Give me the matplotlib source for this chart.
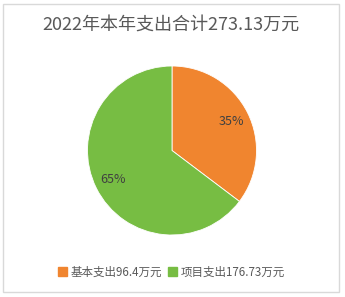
import matplotlib
matplotlib.use("Agg")
import matplotlib.pyplot as plt
from matplotlib.patches import Rectangle, Patch

plt.rcParams['font.family'] = ['Noto Sans CJK SC', 'DejaVu Sans']

title = "2022年本年支出合计273.13万元"
categories = ["基本支出", "项目支出"]
values = [96.4, 176.73]
value_labels = ["96.4", "176.73"]
colors = ["#F0852F", "#77BD43"]

W, H = 345, 297
fig = plt.figure(figsize=(W / 100, H / 100), dpi=100)
fig.patch.set_facecolor("white")

# outer frame
fig.add_artist(Rectangle((3.5 / W, 1 - 291.5 / H), 335.5 / W, 288 / H,
                         transform=fig.transFigure, fill=False,
                         edgecolor="#D9D9D9", linewidth=1.0))

fig.text(171 / W, 1 - 25 / H, title, ha="center", va="center",
         fontsize=13, color="#595959")

# pie area
cx, cy, r = 172, 150.5, 84.5
ax = fig.add_axes([(cx - r) / W, 1 - (cy + r) / H, 2 * r / W, 2 * r / H])
wedges, texts, autotexts = ax.pie(
    values, colors=colors, startangle=90, counterclock=False,
    autopct=lambda p: f"{p:.0f}%", pctdistance=0.78, radius=1,
    wedgeprops=dict(edgecolor="white", linewidth=0.6),
    textprops=dict(fontsize=9, color="#404040"))
ax.set_xlim(-1, 1)
ax.set_ylim(-1, 1)
ax.set_aspect("equal")
ax.axis("off")

handles = [Patch(facecolor=c, edgecolor=c) for c in colors]
labels = [f"{c}{v}万元" for c, v in zip(categories, value_labels)]
leg = fig.legend(handles, labels, loc="center", ncol=2,
                 bbox_to_anchor=(171.5 / W, 1 - 272 / H), frameon=False,
                 fontsize=8.3, handlelength=0.8, handleheight=0.8,
                 handletextpad=0.35, columnspacing=0.45, borderpad=0)
for t in leg.get_texts():
    t.set_color("#595959")

fig.savefig("out.png", dpi=100)
